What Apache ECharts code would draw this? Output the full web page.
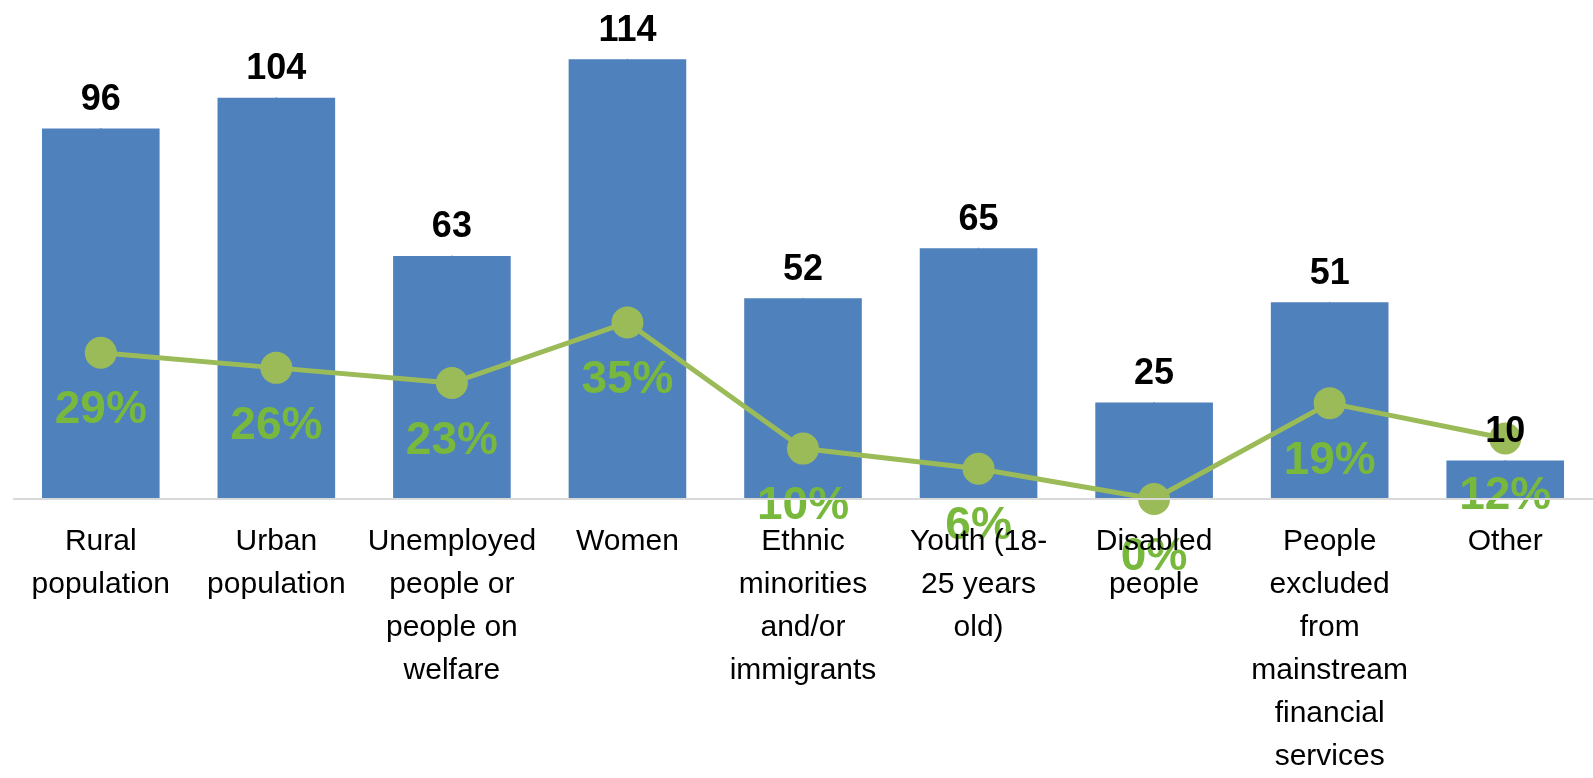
<!DOCTYPE html>
<html>
<head>
<meta charset="utf-8">
<script src="https://cdn.jsdelivr.net/npm/echarts@6/dist/echarts.min.js"></script>
<style>
  html, body { margin: 0; padding: 0; background: #ffffff; }
  #chart { width: 1593px; height: 778px; }
</style>
</head>
<body>
<div id="chart"></div>
<script>
// Target groups: number of institutions serving each group (bars)
// and share of the portfolio (line, percent).
const categories = [
  'Rural\npopulation',
  'Urban\npopulation',
  'Unemployed\npeople or\npeople on\nwelfare',
  'Women',
  'Ethnic\nminorities\nand/or\nimmigrants',
  'Youth (18-\n25 years\nold)',
  'Disabled\npeople',
  'People\nexcluded\nfrom\nmainstream\nfinancial\nservices',
  'Other'
];
const counts = [96, 104, 63, 114, 52, 65, 25, 51, 10];
const shares = [29, 26, 23, 35, 10, 6, 0, 19, 12];

const FONT = '"Liberation Sans", Arial, Helvetica, sans-serif';

const chart = echarts.init(document.getElementById('chart'), null, { renderer: 'canvas' });

chart.setOption({
  animation: false,
  backgroundColor: '#ffffff',
  grid: { left: 13, right: 0, top: 36, bottom: 275, containLabel: false },
  xAxis: {
    type: 'category',
    data: categories,
    boundaryGap: true,
    zlevel: 1,
    axisLine: { show: false },
    axisTick: { show: false },
    axisLabel: {
      interval: 0,
      color: '#000000',
      fontFamily: FONT,
      fontSize: 30,
      lineHeight: 43,
      margin: 21,
      align: 'center'
    }
  },
  yAxis: [
    { type: 'value', min: 0, max: 120, show: false, splitLine: { show: false } },
    { type: 'value', min: 0, max: 91.8, show: false, splitLine: { show: false } }
  ],
  series: [
    {
      name: 'Count',
      type: 'bar',
      data: counts,
      yAxisIndex: 0,
      barCategoryGap: '33%',
      itemStyle: { color: '#4F81BD' },
      z: 2,
      // baseline under the bars, kept beneath the line markers
      markLine: {
        silent: true,
        symbol: 'none',
        label: { show: false },
        lineStyle: { color: '#D9D9D9', width: 2, type: 'solid' },
        data: [{ yAxis: 0 }]
      }
    },
    {
      name: 'Share',
      type: 'line',
      data: shares,
      yAxisIndex: 1,
      symbol: 'circle',
      symbolSize: 32,
      lineStyle: { color: '#9BBB59', width: 5 },
      itemStyle: { color: '#9BBB59' },
      z: 3,
      label: {
        show: true,
        position: 'bottom',
        distance: 19,
        formatter: p => p.value + '%',
        color: '#78B83C',
        fontFamily: FONT,
        fontWeight: 'bold',
        fontSize: 46
      }
    },
    {
      // count labels drawn above the line markers
      name: 'Count labels',
      type: 'scatter',
      data: counts,
      yAxisIndex: 0,
      symbol: 'rect',
      symbolSize: 1,
      silent: true,
      itemStyle: { color: '#4F81BD', opacity: 1 },
      z: 5,
      label: {
        show: true,
        position: 'top',
        distance: 10,
        color: '#000000',
        opacity: 1,
        textBorderWidth: 0,
        fontFamily: FONT,
        fontWeight: 'bold',
        fontSize: 36
      }
    }
  ]
});
</script>
</body>
</html>
